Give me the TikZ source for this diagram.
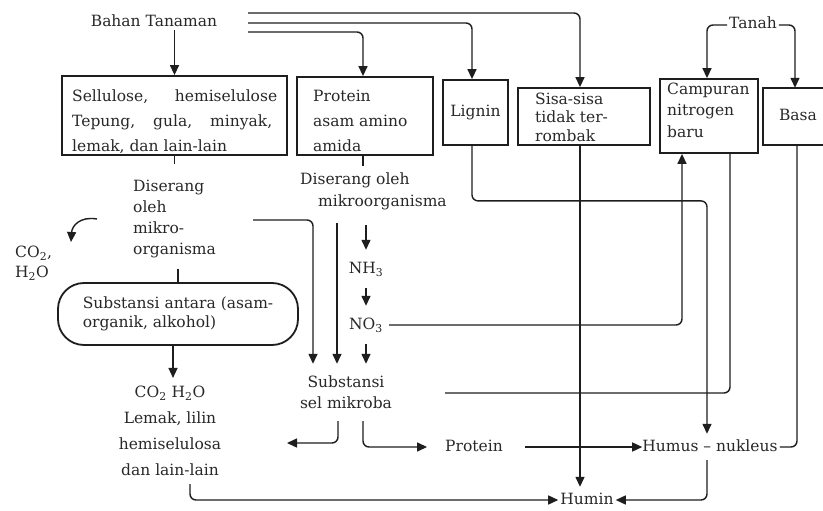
\documentclass[tikz,border=0pt]{standalone}
\usepackage{fontspec}
\setmainfont{DejaVu Serif}
\usetikzlibrary{arrows.meta}
\definecolor{txt}{RGB}{40,40,40}
\definecolor{lncol}{RGB}{30,30,30}
\begin{document}
\begin{tikzpicture}[x=1pt,y=-1pt, font=\fontsize{15.5}{19}\selectfont, text=txt,
  bx/.style={draw=lncol, line width=1.8pt, inner sep=0pt},
  bxline/.style={draw=lncol, line width=1.8pt},
  lbl/.style={inner sep=0pt, text height=11pt, text depth=3pt},
  ml/.style={inner sep=0pt, align=left},
  arr/.style={draw=lncol, line width=1.4pt, -{Triangle[length=10pt,width=9pt]}, rounded corners=6pt},
  ln/.style={draw=lncol, line width=1.4pt, rounded corners=6pt}]
\useasboundingbox (0,0) rectangle (823,511);
\fill[white] (0,0) rectangle (823,511);

% top
\node[lbl] (bahan) at (154,23) {Bahan Tanaman};
\coordinate (s1) at (248,13);
\coordinate (s2) at (248,23);
\coordinate (s3) at (248,32);
\node[lbl] (tanah) at (753,25) {Tanah};

% boxes
\node[bx, minimum width=225pt, minimum height=79pt] (sel) at (174.5,115.5) {};
\node[ml, anchor=north west, font=\fontsize{15.5}{25}\selectfont] (seltxt) at (72,89.5)
  {\hbox to 205pt{Sellulose,\hfill hemiselulose}\\\hbox to 200pt{Tepung,\hfill gula,\hfill minyak,}\\lemak, dan lain-lain};
\node[bx, minimum width=136pt, minimum height=78pt] (prot) at (365,116) {};
\node[ml, anchor=north west, font=\fontsize{15.5}{25}\selectfont] (prottxt) at (313,89.5) {Protein\\asam amino\\amida};
\node[bx, minimum width=65pt, minimum height=65pt] (lignin) at (475.5,112.5) {Lignin};
\node[bx, minimum width=132pt, minimum height=57pt] (sisa) at (584,116.5) {};
\node[ml, anchor=north west, font=\fontsize{15.5}{18.5}\selectfont] (sisatxt) at (535,92.5) {Sisa-sisa\\tidak ter-\\rombak};
\node[bx, minimum width=98pt, minimum height=74pt] (camp) at (709,116) {};
\node[ml, anchor=north west, font=\fontsize{15.5}{21.5}\selectfont] (camptxt) at (667,82.5) {Campuran\\nitrogen\\baru};
\node[lbl, minimum width=60pt, minimum height=57pt] (basa) at (793,116.5) {\hspace*{10pt}Basa};
\draw[bxline] (basa.north east) -- (basa.north west) -- (basa.south west) -- (basa.south east);

% arrows from top
\draw[arr] (bahan.south -| sel.north) -- (sel.north);
\draw[arr] (s3) -| ([xshift=-2pt]prot.north);
\draw[arr] (s2) -| ([xshift=-3.5pt]lignin.north);
\draw[arr] (s1) -| ([xshift=-4pt]sisa.north);
\draw[arr] ([xshift=-2pt]tanah.west) -| ([xshift=-2pt]camp.north);
\draw[arr] ([xshift=2pt]tanah.east) -| ([xshift=2pt]basa.north);

% left column
\node[ml, anchor=west, font=\fontsize{15.5}{20.7}\selectfont] (dis1) at (133,219) {Diserang\\oleh\\mikro-\\organisma};
\node[bx, rounded corners=26pt, minimum width=240pt, minimum height=62pt, align=left] (subst) at (178,314) {Substansi antara (asam-\\organik, alkohol)};
\node[ml, align=center, inner ysep=8pt, font=\fontsize{15.5}{26}\selectfont] (co2t) at (170,431) {CO\textsubscript{2} H\textsubscript{2}O\\Lemak, lilin\\hemiselulosa\\dan lain-lain};
\node[ml, anchor=west, font=\fontsize{15.5}{20}\selectfont] (co2l) at (15,263) {CO\textsubscript{2},\\H\textsubscript{2}O};
\coordinate (ca) at (97,219);
\coordinate (cb) at (71,242);

\draw[ln] (sel.south) -- ++(0,8);
\draw[ln] ([yshift=-11pt]subst.north |- dis1.south) -- (subst.north);
\draw[arr] (ca) .. controls (80,216) and (72,226) .. (cb);
\draw[arr] ([xshift=-5pt]subst.south) -- ([xshift=-5pt]subst.south |- co2t.north);

% middle column
\node[ml, anchor=west, font=\fontsize{15.5}{22}\selectfont] (dis2) at (300,191) {Diserang oleh\\\hspace*{18pt}mikroorganisma};
\node[lbl, inner ysep=12pt] (nh3) at (366,269) {NH\textsubscript{3}};
\node[lbl, inner ysep=12pt] (no3) at (366,325) {NO\textsubscript{3}};
\node[ml, align=center, inner ysep=12pt, font=\fontsize{15.5}{21}\selectfont] (submik) at (346,392.5) {Substansi\\sel mikroba};
\coordinate (nc) at (364,225);
\coordinate (da) at (253,220);
\coordinate (db) at (337,223);

\draw[ln] ([xshift=-2pt]prot.south) -- ++(0,10);
\draw[arr] (nh3.north |- nc) -- (nh3.north);
\draw[arr] (nh3.south) -- (no3.north);
\draw[arr] (no3.south) -- (no3.south |- submik.north);
\draw[arr] (da) -| ([xshift=-33pt]submik.north);
\draw[arr] (db) -- (db |- submik.north);
\draw[arr] ([xshift=6pt]no3.east) -| ([xshift=-27pt]camp.south);

% bottom
\node[lbl, inner xsep=0pt] (prot2) at (474,447) {Protein};
\node[lbl, inner ysep=6pt] (humus) at (710,447) {Humus -- nukleus};
\node[lbl, inner ysep=6pt, inner xsep=2pt] (humin) at (587,500) {Humin};
\coordinate (cend) at (445,393);
\coordinate (lend) at (287,443);
\coordinate (sx) at ([xshift=-4pt]sisa.south);

\draw[arr] ([xshift=-3.5pt]lignin.south) -- ++(0,55) -| ([xshift=-3pt]humus.north);
\draw[arr] (sx) -- (sx |- humin.north);
\draw[ln] ([xshift=21pt]camp.south) |- (cend);
\draw[ln] ([xshift=4pt]basa.south) |- ([xshift=2pt]humus.east);
\draw[arr] ([xshift=-3pt]humus.south) |- (humin.east);
\draw[arr] ([xshift=22pt]prot2.east) -- (humus.west);
\draw[arr] ([xshift=17pt]submik.south) |- ([xshift=-18pt]prot2.west);
\draw[arr] ([xshift=-8pt]submik.south) |- (lend);
\draw[arr] ([xshift=20pt]co2t.south) |- (humin.west);
\end{tikzpicture}
\end{document}
